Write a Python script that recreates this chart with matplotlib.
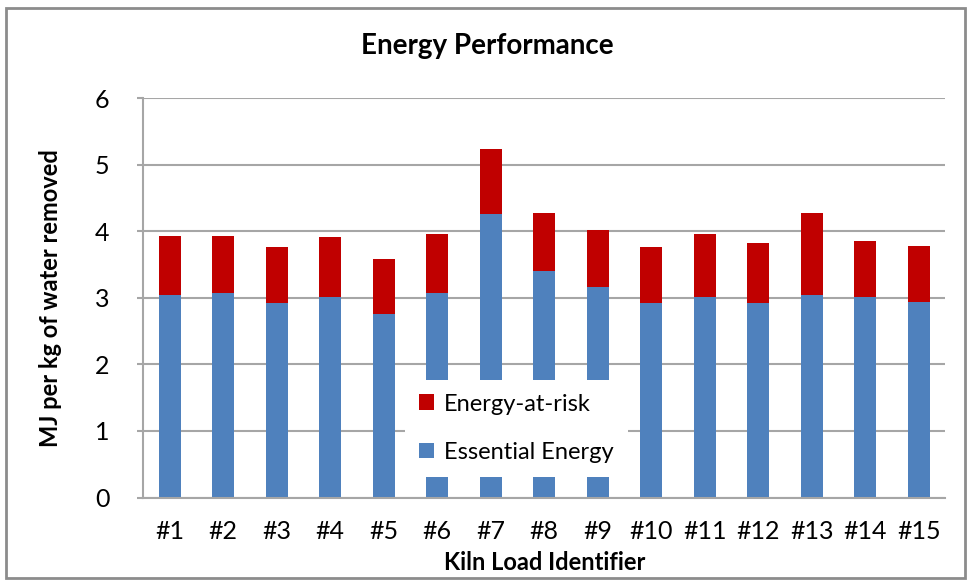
import matplotlib.pyplot as plt
from matplotlib.patches import Rectangle

# kiln loads and the energy split (MJ per kg of water removed)
loads = ['#1', '#2', '#3', '#4', '#5', '#6', '#7', '#8', '#9', '#10',
         '#11', '#12', '#13', '#14', '#15']
essential = [3.04, 3.07, 2.92, 3.01, 2.76, 3.07, 4.26, 3.40, 3.17, 2.92,
             3.01, 2.92, 3.04, 3.01, 2.94]
total = [3.93, 3.93, 3.76, 3.91, 3.59, 3.96, 5.24, 4.28, 4.02, 3.76,
         3.96, 3.83, 4.28, 3.85, 3.78]
at_risk = [t - e for t, e in zip(total, essential)]

plt.rcParams['font.family'] = ['Lato', 'DejaVu Sans']

blue = '#4F81BD'
red = '#C00000'
grid_c = '#a6a6a6'

fig = plt.figure(figsize=(9.68, 5.81), dpi=100)
ax = fig.add_axes([0.1477, 0.1437, 0.829, 0.6871])

x = range(len(loads))
ax.bar(x, essential, width=0.41, color=blue, label='Essential Energy', zorder=2)
ax.bar(x, at_risk, width=0.41, bottom=essential, color=red,
       label='Energy-at-risk', zorder=2)

ax.set_ylim(0, 6)
ax.set_xlim(-0.5, len(loads) - 0.5)
ax.set_yticks(range(0, 7))
ax.set_xticks(list(x))
ax.set_xticklabels(loads)
ax.yaxis.grid(True, color=grid_c, linewidth=1.5, zorder=0)
ax.set_axisbelow(True)
for s in ['top', 'right']:
    ax.spines[s].set_visible(False)
for s in ['left', 'bottom']:
    ax.spines[s].set_color(grid_c)
    ax.spines[s].set_linewidth(1.5)
ax.tick_params(axis='y', length=4, color=grid_c, width=1.5, labelsize=18, pad=20)
ax.tick_params(axis='x', length=0, labelsize=18, pad=16)

ax.set_xlabel('Kiln Load Identifier', fontsize=17, fontweight='bold', labelpad=6)
ax.set_ylabel('MJ per kg of water removed', fontsize=17, fontweight='bold', labelpad=24)
fig.text(0.503, 0.920, 'Energy Performance', ha='center', va='center',
         fontsize=20, fontweight='bold')

handles, labels = ax.get_legend_handles_labels()
leg = ax.legend(handles[::-1], labels[::-1], loc='lower left',
                bbox_to_anchor=(0.3265, 0.0514), fontsize=17,
                frameon=True, fancybox=False, framealpha=1,
                edgecolor='none', facecolor='white',
                handlelength=0.65, handleheight=0.65, handletextpad=0.4,
                labelspacing=1.15, borderpad=0.6, borderaxespad=0)
leg.set_zorder(5)

# outer chart border
fig.patches.append(Rectangle((0.006, 0.005), 0.991, 0.982, transform=fig.transFigure,
                             fill=False, edgecolor='#8c8c8c', linewidth=2))

fig.savefig('out.png', dpi=100)
